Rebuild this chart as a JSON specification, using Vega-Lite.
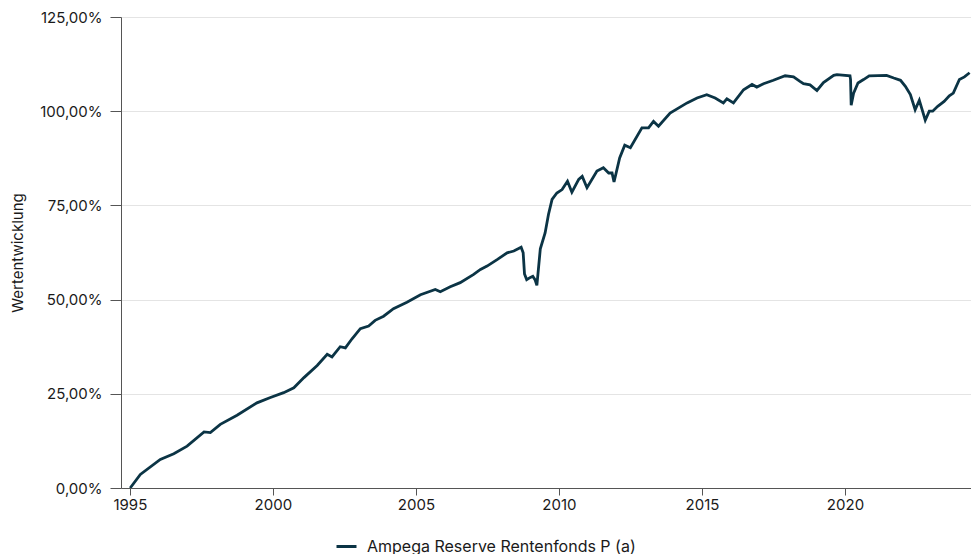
{
  "$schema": "https://vega.github.io/schema/vega-lite/v6.json",
  "autosize": {"type": "none"},
  "padding": {"left": 121, "top": 17, "right": 0, "bottom": 66},
  "width": 850,
  "height": 471,
  "background": "#ffffff",
  "config": {
    "font": "Inter",
    "view": {"stroke": null},
    "axis": {"labelFont": "Inter", "titleFont": "Inter", "labelColor": "#1a1a1a", "titleColor": "#1a1a1a", "labelFontSize": 15, "titleFontSize": 15, "titleFontWeight": "normal", "domainColor": "#555555", "tickColor": "#555555"},
    "legend": {"labelFont": "Inter", "labelFontSize": 16, "labelColor": "#1a1a1a", "labelLimit": 500}
  },
  "data": {"values": [
    {"date": "1995-01-05", "value": 0.0},
    {"date": "1995-05-15", "value": 3.6},
    {"date": "1996-01-25", "value": 7.6},
    {"date": "1996-07-15", "value": 9.1},
    {"date": "1997-01-01", "value": 11.1},
    {"date": "1997-08-05", "value": 14.9},
    {"date": "1997-10-25", "value": 14.7},
    {"date": "1998-03-01", "value": 16.9},
    {"date": "1998-10-01", "value": 19.3},
    {"date": "1999-06-12", "value": 22.6},
    {"date": "1999-12-01", "value": 24.0},
    {"date": "2000-05-18", "value": 25.3},
    {"date": "2000-09-25", "value": 26.6},
    {"date": "2001-02-01", "value": 29.3},
    {"date": "2001-07-20", "value": 32.5},
    {"date": "2001-11-25", "value": 35.5},
    {"date": "2002-01-25", "value": 34.8},
    {"date": "2002-05-10", "value": 37.5},
    {"date": "2002-07-15", "value": 37.2},
    {"date": "2002-10-08", "value": 39.6},
    {"date": "2003-01-22", "value": 42.3},
    {"date": "2003-05-08", "value": 43.0},
    {"date": "2003-07-30", "value": 44.5},
    {"date": "2003-11-15", "value": 45.6},
    {"date": "2004-03-20", "value": 47.6},
    {"date": "2004-09-08", "value": 49.3},
    {"date": "2005-02-28", "value": 51.3},
    {"date": "2005-09-05", "value": 52.7},
    {"date": "2005-11-08", "value": 52.1},
    {"date": "2006-03-15", "value": 53.4},
    {"date": "2006-07-20", "value": 54.5},
    {"date": "2007-01-08", "value": 56.7},
    {"date": "2007-04-05", "value": 58.0},
    {"date": "2007-06-28", "value": 58.9},
    {"date": "2007-11-03", "value": 60.6},
    {"date": "2008-03-10", "value": 62.4},
    {"date": "2008-06-03", "value": 62.9},
    {"date": "2008-09-05", "value": 63.9},
    {"date": "2008-10-01", "value": 62.4},
    {"date": "2008-10-18", "value": 56.8},
    {"date": "2008-11-15", "value": 55.3},
    {"date": "2009-01-01", "value": 55.9},
    {"date": "2009-02-01", "value": 56.2},
    {"date": "2009-03-01", "value": 55.3},
    {"date": "2009-03-25", "value": 53.8},
    {"date": "2009-05-08", "value": 63.5},
    {"date": "2009-07-08", "value": 67.7},
    {"date": "2009-08-20", "value": 72.6},
    {"date": "2009-10-05", "value": 76.6},
    {"date": "2009-12-05", "value": 78.3},
    {"date": "2010-02-10", "value": 79.2},
    {"date": "2010-04-20", "value": 81.4},
    {"date": "2010-06-15", "value": 78.5},
    {"date": "2010-09-10", "value": 81.9},
    {"date": "2010-10-25", "value": 82.7},
    {"date": "2010-12-25", "value": 79.7},
    {"date": "2011-05-01", "value": 84.1},
    {"date": "2011-07-22", "value": 85.0},
    {"date": "2011-09-28", "value": 83.6},
    {"date": "2011-11-10", "value": 83.6},
    {"date": "2011-12-05", "value": 81.2},
    {"date": "2012-02-15", "value": 87.6},
    {"date": "2012-04-20", "value": 91.0},
    {"date": "2012-07-01", "value": 90.3},
    {"date": "2012-11-25", "value": 95.6},
    {"date": "2013-02-18", "value": 95.6},
    {"date": "2013-04-22", "value": 97.3},
    {"date": "2013-06-25", "value": 96.0},
    {"date": "2013-11-20", "value": 99.5},
    {"date": "2014-06-25", "value": 102.2},
    {"date": "2014-10-30", "value": 103.5},
    {"date": "2015-03-03", "value": 104.4},
    {"date": "2015-06-18", "value": 103.5},
    {"date": "2015-10-01", "value": 102.2},
    {"date": "2015-11-15", "value": 103.3},
    {"date": "2016-02-07", "value": 102.2},
    {"date": "2016-06-15", "value": 105.7},
    {"date": "2016-10-01", "value": 107.1},
    {"date": "2016-12-01", "value": 106.4},
    {"date": "2017-02-25", "value": 107.3},
    {"date": "2017-07-01", "value": 108.2},
    {"date": "2017-11-28", "value": 109.4},
    {"date": "2018-03-15", "value": 109.1},
    {"date": "2018-06-05", "value": 107.9},
    {"date": "2018-07-20", "value": 107.3},
    {"date": "2018-10-12", "value": 107.0},
    {"date": "2019-01-08", "value": 105.5},
    {"date": "2019-04-01", "value": 107.6},
    {"date": "2019-08-10", "value": 109.5},
    {"date": "2019-09-20", "value": 109.7},
    {"date": "2020-03-05", "value": 109.4},
    {"date": "2020-03-12", "value": 108.4},
    {"date": "2020-03-20", "value": 101.6},
    {"date": "2020-04-20", "value": 104.8},
    {"date": "2020-06-15", "value": 107.5},
    {"date": "2020-08-25", "value": 108.4},
    {"date": "2020-11-05", "value": 109.4},
    {"date": "2021-06-15", "value": 109.5},
    {"date": "2021-09-15", "value": 108.8},
    {"date": "2021-12-10", "value": 108.2},
    {"date": "2022-02-10", "value": 106.6},
    {"date": "2022-04-15", "value": 104.4},
    {"date": "2022-06-15", "value": 100.4},
    {"date": "2022-08-07", "value": 102.9},
    {"date": "2022-09-12", "value": 100.4},
    {"date": "2022-10-22", "value": 97.6},
    {"date": "2022-12-12", "value": 100.0},
    {"date": "2023-01-25", "value": 100.0},
    {"date": "2023-03-30", "value": 101.3},
    {"date": "2023-06-20", "value": 102.6},
    {"date": "2023-08-25", "value": 104.1},
    {"date": "2023-10-15", "value": 104.8},
    {"date": "2024-01-01", "value": 108.4},
    {"date": "2024-03-05", "value": 109.1},
    {"date": "2024-05-10", "value": 110.2}
  ]},
  "mark": {"type": "line", "strokeWidth": 2.8, "interpolate": "linear", "clip": true},
  "encoding": {
    "x": {
      "field": "date", "type": "temporal",
      "scale": {"domain": ["1994-09-10", "2024-05-28"]},
      "axis": {"title": null, "grid": false, "format": "%Y", "tickCount": {"interval": "year", "step": 5}, "tickSize": 7, "labelPadding": 2, "labelFlush": false}
    },
    "y": {
      "field": "value", "type": "quantitative",
      "scale": {"domain": [0, 125], "nice": false},
      "axis": {"title": "Wertentwicklung", "values": [0, 25, 50, 75, 100, 125], "grid": true, "gridColor": "#e4e4e4", "tickSize": 11, "labelPadding": 8, "titlePadding": 14, "labelExpr": "replace(format(datum.value, '.2f'), '.', ',') + '%'"}
    },
    "color": {
      "datum": "Ampega Reserve Rentenfonds P (a)",
      "scale": {"range": ["#0b3445"]},
      "legend": {"title": null, "orient": "none", "legendX": 214, "legendY": 518, "symbolType": "stroke", "symbolSize": 400, "symbolStrokeWidth": 3, "labelOffset": 9}
    }
  }
}
